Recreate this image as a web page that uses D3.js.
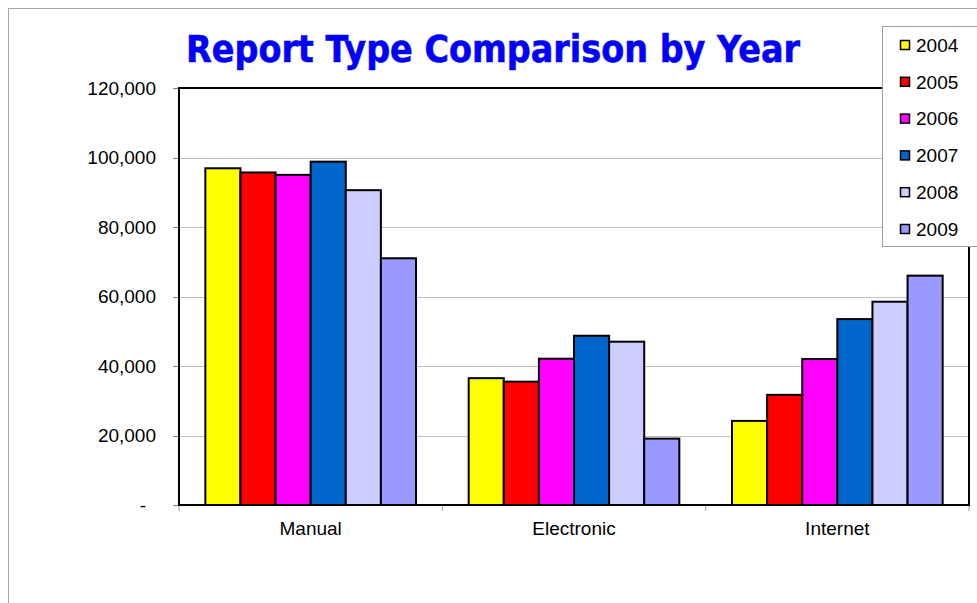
<!DOCTYPE html>
<html>
<head>
<meta charset="utf-8">
<script src="https://cdn.jsdelivr.net/npm/d3@7"></script>
<style>
  body { margin: 0; background: #fff; }
</style>
</head>
<body>
<div id="chart"></div>
<script>
// Chart data
const categories = ["Manual", "Electronic", "Internet"];
const years = ["2004", "2005", "2006", "2007", "2008", "2009"];
const colors = ["#FFFF00", "#FF0000", "#FF00FF", "#0066CC", "#CCCCFF", "#9999FF"];
const values2004 = [96900, 36500, 24200];
const values2005 = [95700, 35500, 31700];
const values2006 = [95000, 42100, 42000];
const values2007 = [98800, 48700, 53500];
const values2008 = [90600, 47000, 58500];
const values2009 = [71000, 19100, 66000];
const yTicks = [0, 20000, 40000, 60000, 80000, 100000, 120000];
const yTickLabels = ["-", "20,000", "40,000", "60,000", "80,000", "100,000", "120,000"];

const series = [values2004, values2005, values2006, values2007, values2008, values2009];

const W = 977, H = 603;
const plot = { left: 179, top: 88, right: 969, bottom: 505 };

const svg = d3.select("#chart")
  .append("svg")
  .attr("width", W)
  .attr("height", H);

// outer chart border
svg.append("rect")
  .attr("x", 8.5).attr("y", 8.5)
  .attr("width", W + 10).attr("height", H + 10)
  .attr("fill", "#fff")
  .attr("stroke", "#a6a6a6")
  .attr("stroke-width", 1);

// Scales
const x0 = d3.scaleBand()
  .domain(categories)
  .range([plot.left, plot.right])
  .paddingInner(0.2)
  .paddingOuter(0.1);

const x1 = d3.scaleBand()
  .domain(years)
  .range([0, x0.bandwidth()]);

const y = d3.scaleLinear()
  .domain([0, 120000])
  .range([plot.bottom, plot.top]);

// gridlines
svg.append("g")
  .selectAll("line")
  .data(yTicks.slice(1, -1))
  .enter()
  .append("line")
  .attr("x1", plot.left).attr("x2", plot.right)
  .attr("y1", d => Math.round(y(d)) + 0.5)
  .attr("y2", d => Math.round(y(d)) + 0.5)
  .attr("stroke", "#c0c0c0")
  .attr("stroke-width", 1);

// Y axis ticks and labels
const yAxis = svg.append("g");
yAxis.selectAll("line")
  .data(yTicks)
  .enter()
  .append("line")
  .attr("x1", plot.left - 6).attr("x2", plot.left)
  .attr("y1", d => Math.round(y(d)) + 0.5)
  .attr("y2", d => Math.round(y(d)) + 0.5)
  .attr("stroke", "#808080");

yAxis.selectAll("text")
  .data(yTicks)
  .enter()
  .append("text")
  .attr("x", (d, i) => i === 0 ? plot.left - 33 : plot.left - 23)
  .attr("y", d => y(d))
  .attr("dy", "0.36em")
  .attr("text-anchor", "end")
  .attr("font-family", "Liberation Sans, Arial, sans-serif")
  .attr("font-size", 19)
  .attr("fill", "#000")
  .text((d, i) => yTickLabels[i]);

// category ticks
svg.append("g")
  .selectAll("line")
  .data(categories.concat(["end"]))
  .enter()
  .append("line")
  .attr("x1", (d, i) => i < categories.length ? x0(d) - x0.step() * 0.1 : plot.right)
  .attr("x2", (d, i) => i < categories.length ? x0(d) - x0.step() * 0.1 : plot.right)
  .attr("y1", plot.bottom)
  .attr("y2", plot.bottom + 6)
  .attr("stroke", "#a0a0a0");

// bars
const groups = svg.append("g")
  .selectAll("g")
  .data(categories)
  .enter()
  .append("g")
  .attr("transform", d => `translate(${x0(d)},0)`);

groups.selectAll("rect")
  .data((d, ci) => years.map((yr, si) => ({ yr, si, v: series[si][ci] })))
  .enter()
  .append("rect")
  .attr("x", d => x1(d.yr))
  .attr("y", d => y(d.v))
  .attr("width", x1.bandwidth())
  .attr("height", d => plot.bottom - y(d.v))
  .attr("fill", d => colors[d.si])
  .attr("stroke", "#000")
  .attr("stroke-width", 2);

// plot area border
svg.append("rect")
  .attr("x", plot.left).attr("y", plot.top)
  .attr("width", plot.right - plot.left)
  .attr("height", plot.bottom - plot.top)
  .attr("fill", "none")
  .attr("stroke", "#000")
  .attr("stroke-width", 2);

// category labels
svg.append("g")
  .selectAll("text")
  .data(categories)
  .enter()
  .append("text")
  .attr("x", d => x0(d) + x0.bandwidth() / 2)
  .attr("y", 535)
  .attr("text-anchor", "middle")
  .attr("font-family", "Liberation Sans, Arial, sans-serif")
  .attr("font-size", 19)
  .text(d => d);

// title
svg.append("text")
  .attr("x", 493)
  .attr("y", 62)
  .attr("text-anchor", "middle")
  .attr("font-family", "DejaVu Sans, Verdana, sans-serif")
  .attr("font-weight", "bold")
  .attr("font-size", 37)
  .attr("fill", "#0000FF")
  .attr("stroke", "#0000FF")
  .attr("stroke-width", 0.6)
  .attr("textLength", 614)
  .attr("lengthAdjust", "spacingAndGlyphs")
  .text("Report Type Comparison by Year");

// legend
const legend = svg.append("g");
legend.append("rect")
  .attr("x", 882.5).attr("y", 26.5)
  .attr("width", 110).attr("height", 220)
  .attr("fill", "#fff")
  .attr("stroke", "#a0a0a0");

const items = legend.selectAll("g.item")
  .data(years)
  .enter()
  .append("g")
  .attr("class", "item")
  .attr("transform", (d, i) => `translate(900,${45 + i * 36.8})`);

items.append("rect")
  .attr("x", 0.5).attr("y", -4.5)
  .attr("width", 9).attr("height", 9)
  .attr("fill", (d, i) => colors[i])
  .attr("stroke", "#000")
  .attr("stroke-width", 1.5);

items.append("text")
  .attr("x", 16)
  .attr("y", 0)
  .attr("dy", "0.36em")
  .attr("font-family", "Liberation Sans, Arial, sans-serif")
  .attr("font-size", 19)
  .text(d => d);
</script>
</body>
</html>
